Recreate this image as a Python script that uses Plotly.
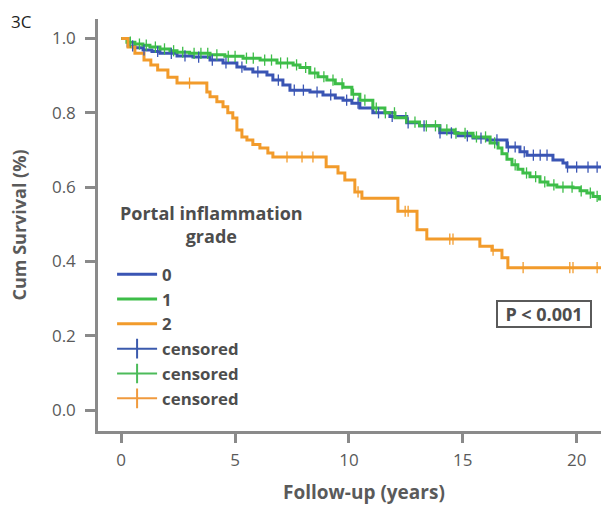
import plotly.graph_objects as go
import numpy as np

# ---- Data ----
grade0_t = [0, 0.3, 0.6, 0.96, 1.35, 1.7, 2.45, 3.15, 3.9, 4.47, 5.08, 5.43, 5.78, 6.4, 6.66,
            7.1, 7.41, 8.29, 8.86, 9.4, 9.74, 10.13, 10.48, 11.05, 11.8, 12.54, 13.1, 13.99,
            14.79, 15.45, 16.07, 16.94, 17.51, 17.82, 18.96, 19.4, 19.57, 21.1]
grade0_s = [1.0, 0.98, 0.975, 0.969, 0.965, 0.96, 0.953, 0.95, 0.942, 0.934, 0.923, 0.918, 0.91,
            0.902, 0.888, 0.875, 0.861, 0.856, 0.848, 0.84, 0.834, 0.826, 0.813, 0.8, 0.79, 0.773,
            0.765, 0.746, 0.738, 0.732, 0.727, 0.708, 0.695, 0.686, 0.673, 0.665, 0.654, 0.654]
grade0_cens = [0.5, 1.0, 1.6, 2.2, 2.8, 3.4, 4.0, 4.6, 5.3, 6.0, 6.9, 7.6, 8.0, 8.6, 9.2, 9.9,
               10.4, 11.3, 11.9, 12.6, 13.3, 14.0, 14.5, 15.2, 15.8, 16.5, 17.0, 17.3, 17.7,
               18.1, 18.4, 18.7, 19.6, 20.0, 20.5, 20.9]

grade1_t = [0, 0.25, 0.6, 0.95, 1.26, 1.7, 2.14, 2.45, 3.0, 3.9, 4.55, 5.35, 6.1, 6.84, 7.55,
            7.85, 8.28, 8.64, 9.03, 9.4, 9.74, 10.13, 10.48, 11.05, 11.58, 12.02, 12.54, 13.1,
            13.99, 14.65, 15.45, 16.2, 16.55, 16.72, 16.94, 17.16, 17.42, 17.64, 17.95, 18.39,
            18.74, 19.13, 19.84, 20.15, 20.45, 20.72, 21.0, 21.1]
grade1_s = [1.0, 0.99, 0.985, 0.982, 0.977, 0.972, 0.967, 0.963, 0.96, 0.956, 0.952, 0.947,
            0.942, 0.934, 0.929, 0.922, 0.907, 0.897, 0.888, 0.878, 0.869, 0.85, 0.834, 0.813,
            0.8, 0.787, 0.775, 0.765, 0.754, 0.745, 0.735, 0.719, 0.705, 0.69, 0.675, 0.66,
            0.648, 0.638, 0.628, 0.614, 0.606, 0.6, 0.598, 0.59, 0.584, 0.575, 0.568, 0.568]
grade1_cens = [0.4, 0.8, 1.1, 1.5, 1.9, 2.3, 2.7, 3.2, 3.5, 3.8, 4.2, 4.7, 5.0, 5.5, 5.8, 6.3,
               6.6, 7.0, 7.3, 7.7, 8.1, 8.5, 8.9, 9.3, 9.7, 10.2, 10.7, 11.2, 11.6, 12.0, 12.5,
               12.9, 13.4, 13.8, 14.3, 14.7, 15.1, 15.6, 16.0, 16.4, 17.3, 17.8, 18.2, 18.6,
               19.0, 19.4, 19.8, 20.2, 20.6, 20.9]

grade2_t = [0, 0.3, 0.6, 1.0, 1.3, 1.6, 2.05, 2.45, 3.76, 3.9, 4.2, 4.47, 4.68, 4.9, 5.08, 5.3,
            5.52, 5.78, 6.09, 6.44, 6.66, 9.0, 9.52, 9.82, 10.26, 10.57, 12.15, 12.99, 13.42,
            15.75, 16.28, 16.72, 16.98, 21.1]
grade2_s = [1.0, 0.977, 0.96, 0.942, 0.929, 0.915, 0.896, 0.88, 0.856, 0.843, 0.83, 0.816, 0.80,
            0.786, 0.754, 0.735, 0.727, 0.715, 0.705, 0.692, 0.681, 0.655, 0.638, 0.619, 0.587,
            0.57, 0.535, 0.485, 0.46, 0.441, 0.43, 0.41, 0.383, 0.383]
grade2_cens = [3.0, 7.28, 7.94, 8.42, 10.4, 12.47, 12.6, 14.43, 14.57, 16.33, 17.65, 19.7,
               19.84, 20.9]

x_ticks = [0, 5, 10, 15, 20]
y_ticks = [0.0, 0.2, 0.4, 0.6, 0.8, 1.0]
y_ticklabels = ["0.0", "0.2", "0.4", "0.6", "0.8", "1.0"]

names = ["0", "1", "2"]
colors = ["#3a55b4", "#3dbd48", "#f29b2b"]
legend_colors = ["#3b5aad", "#4cbb5a", "#f09a3e"]

series = [(grade0_t, grade0_s, grade0_cens),
          (grade1_t, grade1_s, grade1_cens),
          (grade2_t, grade2_s, grade2_cens)]

GRAY = "#5a5a5a"
DARK = "#4d4d4d"
FONT = "Open Sans"

fig = go.Figure()

def surv_at(ts, ss, t):
    idx = np.searchsorted(np.array(ts), t, side="right") - 1
    return ss[max(idx, 0)]

# step curves
for (t, s, c), n, col in zip(series, names, colors):
    fig.add_trace(go.Scatter(x=t, y=s, mode="lines", line=dict(shape="hv", color=col, width=3),
                             name=n, legendrank=1))

# censored marks
for (t, s, c), n, col, lcol in zip(series, names, colors, legend_colors):
    cy = [surv_at(t, s, ci) for ci in c]
    fig.add_trace(go.Scatter(x=c, y=cy, mode="markers",
                             marker=dict(symbol="line-ns", size=8, line=dict(color=col, width=1.3)),
                             showlegend=False, hoverinfo="skip"))
    fig.add_trace(go.Scatter(x=[None], y=[None], mode="lines+markers", name="censored",
                             line=dict(color=lcol, width=2),
                             marker=dict(symbol="line-ns", size=14, line=dict(color=lcol, width=2)),
                             legendrank=2))

fig.update_layout(
    width=601, height=507,
    margin=dict(l=98, r=0, t=19, b=76),
    plot_bgcolor="white", paper_bgcolor="white",
    font=dict(family=FONT, color=GRAY, size=17),
    showlegend=True,
    legend=dict(
        x=0.028, y=0.423, xanchor="left", yanchor="top",
        bgcolor="rgba(0,0,0,0)",
        font=dict(family=FONT, size=16.8, color=DARK, weight="bold"),
        itemwidth=40, tracegroupgap=0,
    ),
    xaxis=dict(
        range=[-1.02, 21.07], tickvals=x_ticks, ticks="outside", ticklen=9, tickwidth=2.5,
        tickcolor="#8a8a8a", showline=True, linecolor="#8a8a8a", linewidth=2.5,
        showgrid=False, zeroline=False, tickfont=dict(size=17, color=GRAY),
        ticklabelstandoff=3,
    ),
    yaxis=dict(
        range=[-0.0565, 1.0525], tickvals=y_ticks, ticktext=y_ticklabels, ticks="outside",
        ticklen=10, tickwidth=2.5, tickcolor="#8a8a8a", showline=True, linecolor="#8a8a8a",
        linewidth=2.5, showgrid=False, zeroline=False, tickfont=dict(size=17, color=GRAY),
        ticklabelstandoff=6,
        title=dict(text="Cum Survival (%)", font=dict(size=18, color=GRAY, weight="bold"), standoff=21),
    ),
    annotations=[
        dict(text="3C", xref="paper", yref="paper", x=-0.177, y=0.993, xanchor="left", yanchor="middle",
             showarrow=False, font=dict(family=FONT, size=17, color="#222222")),
        dict(text="<b>Follow-up (years)</b>", xref="paper", yref="paper", x=0.528, y=-0.148,
             xanchor="center", yanchor="middle", showarrow=False,
             font=dict(family=FONT, size=19, color=GRAY)),
        dict(text="<b>Portal inflammation<br>grade</b>", xref="paper", yref="paper",
             x=0.225, y=0.563, xanchor="center", yanchor="top", align="center", showarrow=False,
             font=dict(family=FONT, size=18, color=DARK)),
        dict(text="<b>P < 0.001</b>", xref="paper", yref="paper", x=0.886, y=0.284,
             xanchor="center", yanchor="middle", showarrow=False,
             font=dict(family=FONT, size=18, color=DARK), width=88, height=20,
             bordercolor="#5a5a5a", borderwidth=2, borderpad=2, bgcolor="white"),
    ],
)

fig.write_html("out.html")
